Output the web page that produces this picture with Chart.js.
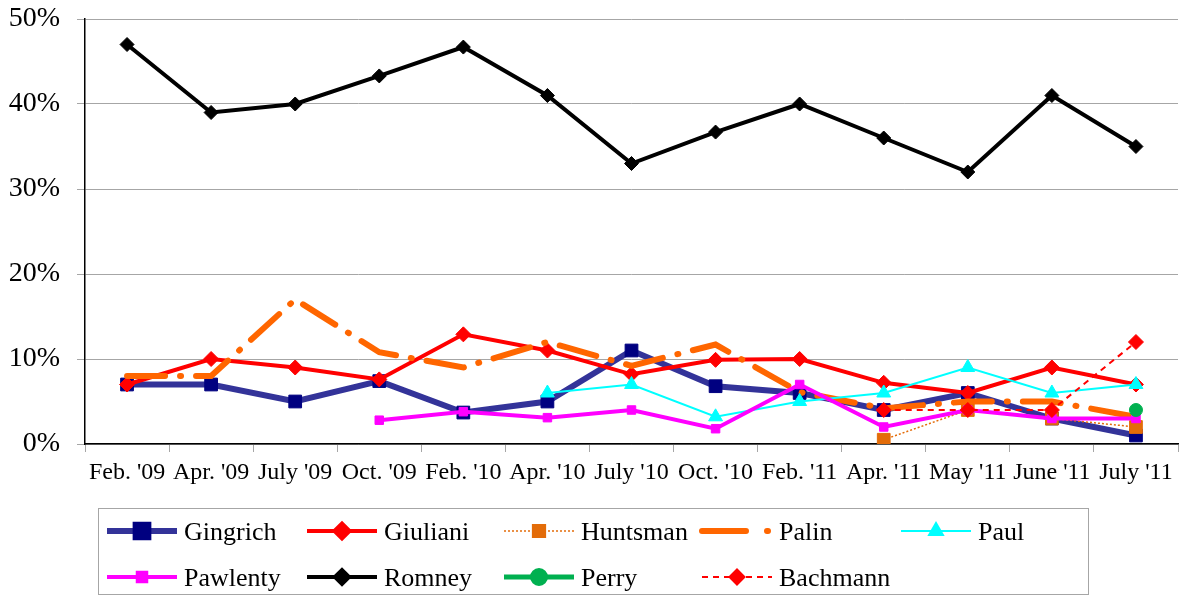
<!DOCTYPE html>
<html>
<head>
<meta charset="utf-8">
<script src="https://cdn.jsdelivr.net/npm/chart.js@4.4.1/dist/chart.umd.min.js"></script>
<style>
  html, body { margin: 0; padding: 0; background: #fff; }
  #wrap { width: 1188px; height: 597px; }
</style>
</head>
<body>
<div id="wrap"><canvas id="grafico"></canvas></div>
<script>
const meses = ["Feb. '09", "Apr. '09", "July '09", "Oct. '09", "Feb. '10", "Apr. '10", "July '10",
  "Oct. '10", "Feb. '11", "Apr. '11", "May '11", "June '11", "July '11"];

const gingrich = [7, 7, 5, 7.4, 3.7, 5, 11, 6.8, 6, 4, 6, 3, 1];
const giuliani = [7, 10, 9, 7.6, 12.9, 11, 8.2, 9.9, 10, 7.2, 6, 9, 7];
const huntsman = [null, null, null, null, null, null, null, null, null, 0.5, 4, 3, 2];
const palin = [8, 8, 17, 10.8, 9, 12, 9.2, 11.7, 6.1, 4.2, 5, 5, 3.2];
const paul = [null, null, null, null, null, 6, 7, 3.2, 5, 6, 9, 6, 7];
const pawlenty = [null, null, null, 2.8, 3.8, 3.1, 4, 1.8, 7, 2, 4, 3, 3];
const romney = [47, 39, 40, 43.3, 46.7, 41, 33, 36.7, 40, 36, 32, 41, 35];
const perry = [null, null, null, null, null, null, null, null, null, null, null, null, 4];
const bachmann = [null, null, null, null, null, null, null, null, null, 4, 4, 4, 12];

const yTicks = [0, 10, 20, 30, 40, 50];

const fonte = "'Liberation Serif', 'Times New Roman', serif";

// legend drawn by hand, Excel style: 5 columns x 2 rows in a box
const colunasLegenda = [107, 307, 504, 702, 901];
const linhasLegenda = [531, 577];

const legendaPlugin = {
  id: "legendaExcel",
  afterDraw(chart) {
    const ctx = chart.ctx;
    ctx.save();

    ctx.strokeStyle = "#A6A6A6";
    ctx.lineWidth = 1;
    ctx.setLineDash([]);
    ctx.strokeRect(98.5, 508.5, 990, 86);

    chart.data.datasets.forEach((ds, i) => {
      const x = colunasLegenda[i < 5 ? i : i - 5];
      const y = linhasLegenda[i < 5 ? 0 : 1];

      ctx.beginPath();
      ctx.setLineDash(ds.legendDash || ds.borderDash || []);
      ctx.lineCap = ds.borderCapStyle || "butt";
      ctx.strokeStyle = ds.borderColor;
      ctx.lineWidth = ds.borderWidth;
      ctx.moveTo(x, y);
      ctx.lineTo(x + 70, y);
      ctx.stroke();

      if (ds.pointRadius > 0) {
        ctx.setLineDash([]);
        ctx.fillStyle = ds.pointBackgroundColor;
        ctx.strokeStyle = ds.pointBorderColor;
        Chart.helpers.drawPoint(ctx, {
          pointStyle: ds.pointStyle,
          radius: ds.pointRadius,
          rotation: 0,
          borderWidth: 1,
        }, x + 35, y);
      }

      ctx.fillStyle = "#000";
      ctx.font = "26px " + fonte;
      ctx.textAlign = "left";
      ctx.textBaseline = "alphabetic";
      ctx.fillText(ds.label, x + 77, y + 9);
    });

    ctx.restore();
  },
};

function serie(label, data, cor, extra) {
  return Object.assign({
    label: label,
    data: data,
    borderColor: cor,
    backgroundColor: cor,
    pointBackgroundColor: cor,
    pointBorderColor: cor,
    pointBorderWidth: 1,
    tension: 0,
    spanGaps: false,
    fill: false,
  }, extra);
}

new Chart(document.getElementById("grafico"), {
  type: "line",
  data: {
    labels: meses,
    datasets: [
      serie("Gingrich", gingrich, "#333399", {
        borderWidth: 6, pointStyle: "rect", pointRadius: 9,
        pointBackgroundColor: "#000080", pointBorderColor: "#000080", order: 9,
      }),
      serie("Giuliani", giuliani, "#FF0000", {
        borderWidth: 4, pointStyle: "rectRot", pointRadius: 7.5, order: 8,
      }),
      serie("Huntsman", huntsman, "#E46C0A", {
        borderWidth: 1.5, borderDash: [2, 2], pointStyle: "rect", pointRadius: 9,
        pointBackgroundColor: "#E36C09", pointBorderColor: "#E36C09", order: 7,
      }),
      serie("Palin", palin, "#FF6600", {
        borderWidth: 6, borderDash: [38, 15, 1, 15], legendDash: [44, 21, 1, 30],
        borderCapStyle: "round", pointRadius: 0, order: 6,
      }),
      serie("Paul", paul, "#00FFFF", {
        borderWidth: 2, pointStyle: "triangle", pointRadius: 8, order: 5,
      }),
      serie("Pawlenty", pawlenty, "#FF00FF", {
        borderWidth: 4, pointStyle: "rect", pointRadius: 6, order: 4,
      }),
      serie("Romney", romney, "#000000", {
        borderWidth: 4, pointStyle: "rectRot", pointRadius: 7, order: 3,
      }),
      serie("Perry", perry, "#00B050", {
        borderWidth: 5, pointStyle: "circle", pointRadius: 6.5, order: 2,
      }),
      serie("Bachmann", bachmann, "#FF0000", {
        borderWidth: 2, borderDash: [6, 5], pointStyle: "rectRot", pointRadius: 7.5, order: 1,
      }),
    ],
  },
  options: {
    responsive: true,
    maintainAspectRatio: false,
    animation: false,
    layout: {
      padding: { top: 19, right: 0, bottom: 0, left: 0 },
    },
    plugins: {
      legend: { display: false },
      tooltip: { enabled: false },
    },
    scales: {
      x: {
        offset: true,
        grid: {
          drawOnChartArea: false,
          drawTicks: true,
          tickLength: 8,
          color: "#A6A6A6",
          offset: true,
        },
        border: { color: "#000", width: 1.5 },
        ticks: {
          color: "#000",
          font: { family: fonte, size: 24 },
          padding: 6,
          maxRotation: 0,
          autoSkip: false,
        },
        afterFit: (escala) => {
          escala.height = 153;
          escala.paddingLeft = 0;
          escala.paddingRight = 0;
        },
      },
      y: {
        min: yTicks[0],
        max: yTicks[yTicks.length - 1],
        afterBuildTicks: (escala) => {
          escala.ticks = yTicks.map((v) => ({ value: v }));
        },
        grid: {
          color: "#A6A6A6",
          tickLength: 8,
          lineWidth: 1,
        },
        border: { color: "#000", width: 1.5 },
        ticks: {
          color: "#000",
          font: { family: fonte, size: 28 },
          padding: 17,
          callback: (v) => v + "%",
        },
        afterFit: (escala) => {
          escala.width = 85;
          escala.paddingTop = 0;
          escala.paddingBottom = 0;
        },
      },
    },
  },
  plugins: [legendaPlugin],
});
</script>
</body>
</html>
